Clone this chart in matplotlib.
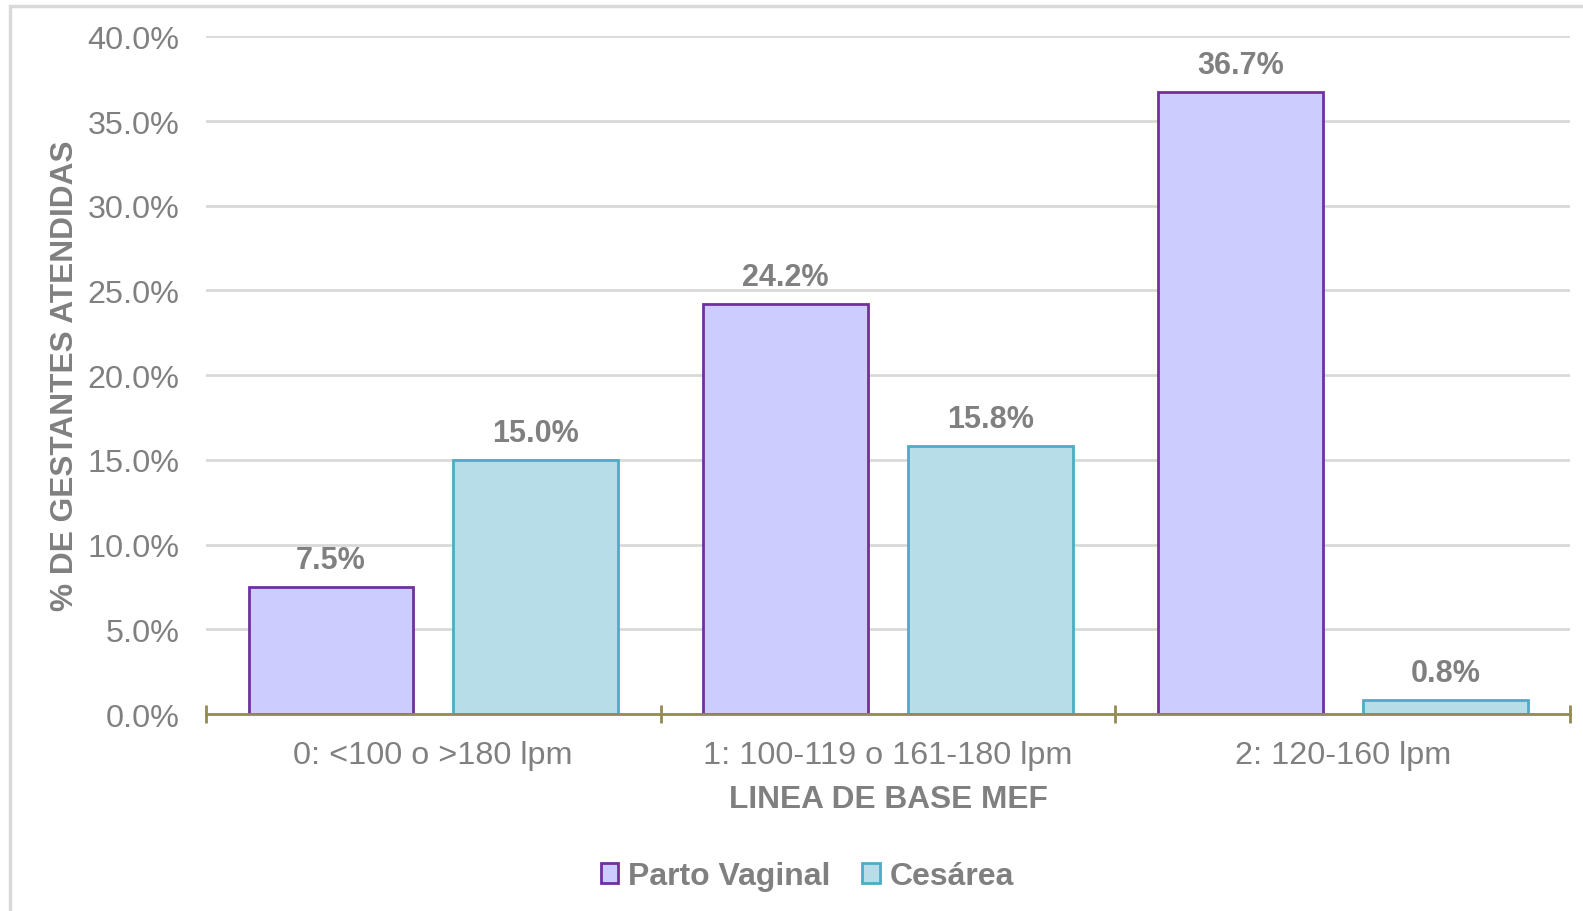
import numpy as np
import matplotlib.pyplot as plt
from matplotlib.patches import Rectangle
from matplotlib.ticker import FuncFormatter

categories = ["0: <100 o >180 lpm", "1: 100-119 o 161-180 lpm", "2: 120-160 lpm"]
parto_vaginal = [7.5, 24.2, 36.7]
cesarea = [15.0, 15.8, 0.8]
series_names = ["Parto Vaginal", "Cesárea"]

plt.rcParams['font.family'] = ['Liberation Sans', 'DejaVu Sans']
grey = '#808080'

fig = plt.figure(figsize=(15.83, 9.12), dpi=100)
ax = fig.add_axes([0.130, 0.216, 0.862, 0.743])

# thin frame around the chart area
fig.patches.append(Rectangle((0.0065, -0.05), 1.2, 1.042, transform=fig.transFigure,
                             fill=False, edgecolor='#d9d9d9', linewidth=2.5))

x = np.arange(len(categories))
w = 0.362
off = 0.225
b1 = ax.bar(x - off, parto_vaginal, w, color='#ccccff', edgecolor='#7030a0',
            linewidth=2, label=series_names[0], zorder=3)
b2 = ax.bar(x + off, cesarea, w, color='#b7dee8', edgecolor='#4bacc6',
            linewidth=2, label=series_names[1], zorder=3)

for bars, vals in ((b1, parto_vaginal), (b2, cesarea)):
    for rect, v in zip(bars, vals):
        ax.annotate(f"{v:.1f}%", (rect.get_x() + rect.get_width() / 2, v),
                    xytext=(0, 19.5), textcoords='offset points',
                    ha='center', va='center', fontsize=22, fontweight='bold',
                    color=grey)

ax.set_xlim(-0.5, 2.5)
ax.set_ylim(0, 40)
ax.set_yticks(np.arange(0, 41, 5))
ax.yaxis.set_major_formatter(FuncFormatter(lambda v, p: f"{v:.1f}%"))
ax.tick_params(axis='y', length=0, pad=19, labelsize=23.3, labelcolor=grey)
ax.grid(axis='y', color='#d9d9d9', linewidth=2, zorder=0)

# boundary ticks on the category axis, labels at the centres
ax.set_xticks([-0.5, 0.5, 1.5, 2.5])
ax.set_xticklabels([])
ax.tick_params(axis='x', which='major', direction='inout', length=13,
               width=2, color='#948a54')
ax.set_xticks(x, minor=True)
ax.set_xticklabels(categories, minor=True)
ax.tick_params(axis='x', which='minor', length=0, pad=19, labelsize=23.3,
               labelcolor=grey)

for s in ('left', 'right', 'top'):
    ax.spines[s].set_visible(False)
ax.spines['bottom'].set_color('#948a54')
ax.spines['bottom'].set_linewidth(2)
ax.spines['bottom'].set_zorder(4)

ax.set_ylabel("% DE GESTANTES ATENDIDAS", fontsize=22.8, fontweight='bold',
              color=grey, labelpad=5)
ax.set_xlabel("LINEA DE BASE MEF", fontsize=22.8, fontweight='bold',
              color=grey, labelpad=10)

fig.legend(loc='center', bbox_to_anchor=(0.51, 0.038), ncol=2, frameon=False,
           handlelength=0.55, handleheight=0.55, handletextpad=0.3,
           columnspacing=1.0, labelcolor=grey,
           prop={'weight': 'bold', 'size': 23})

fig.savefig('out.png', dpi=100)
